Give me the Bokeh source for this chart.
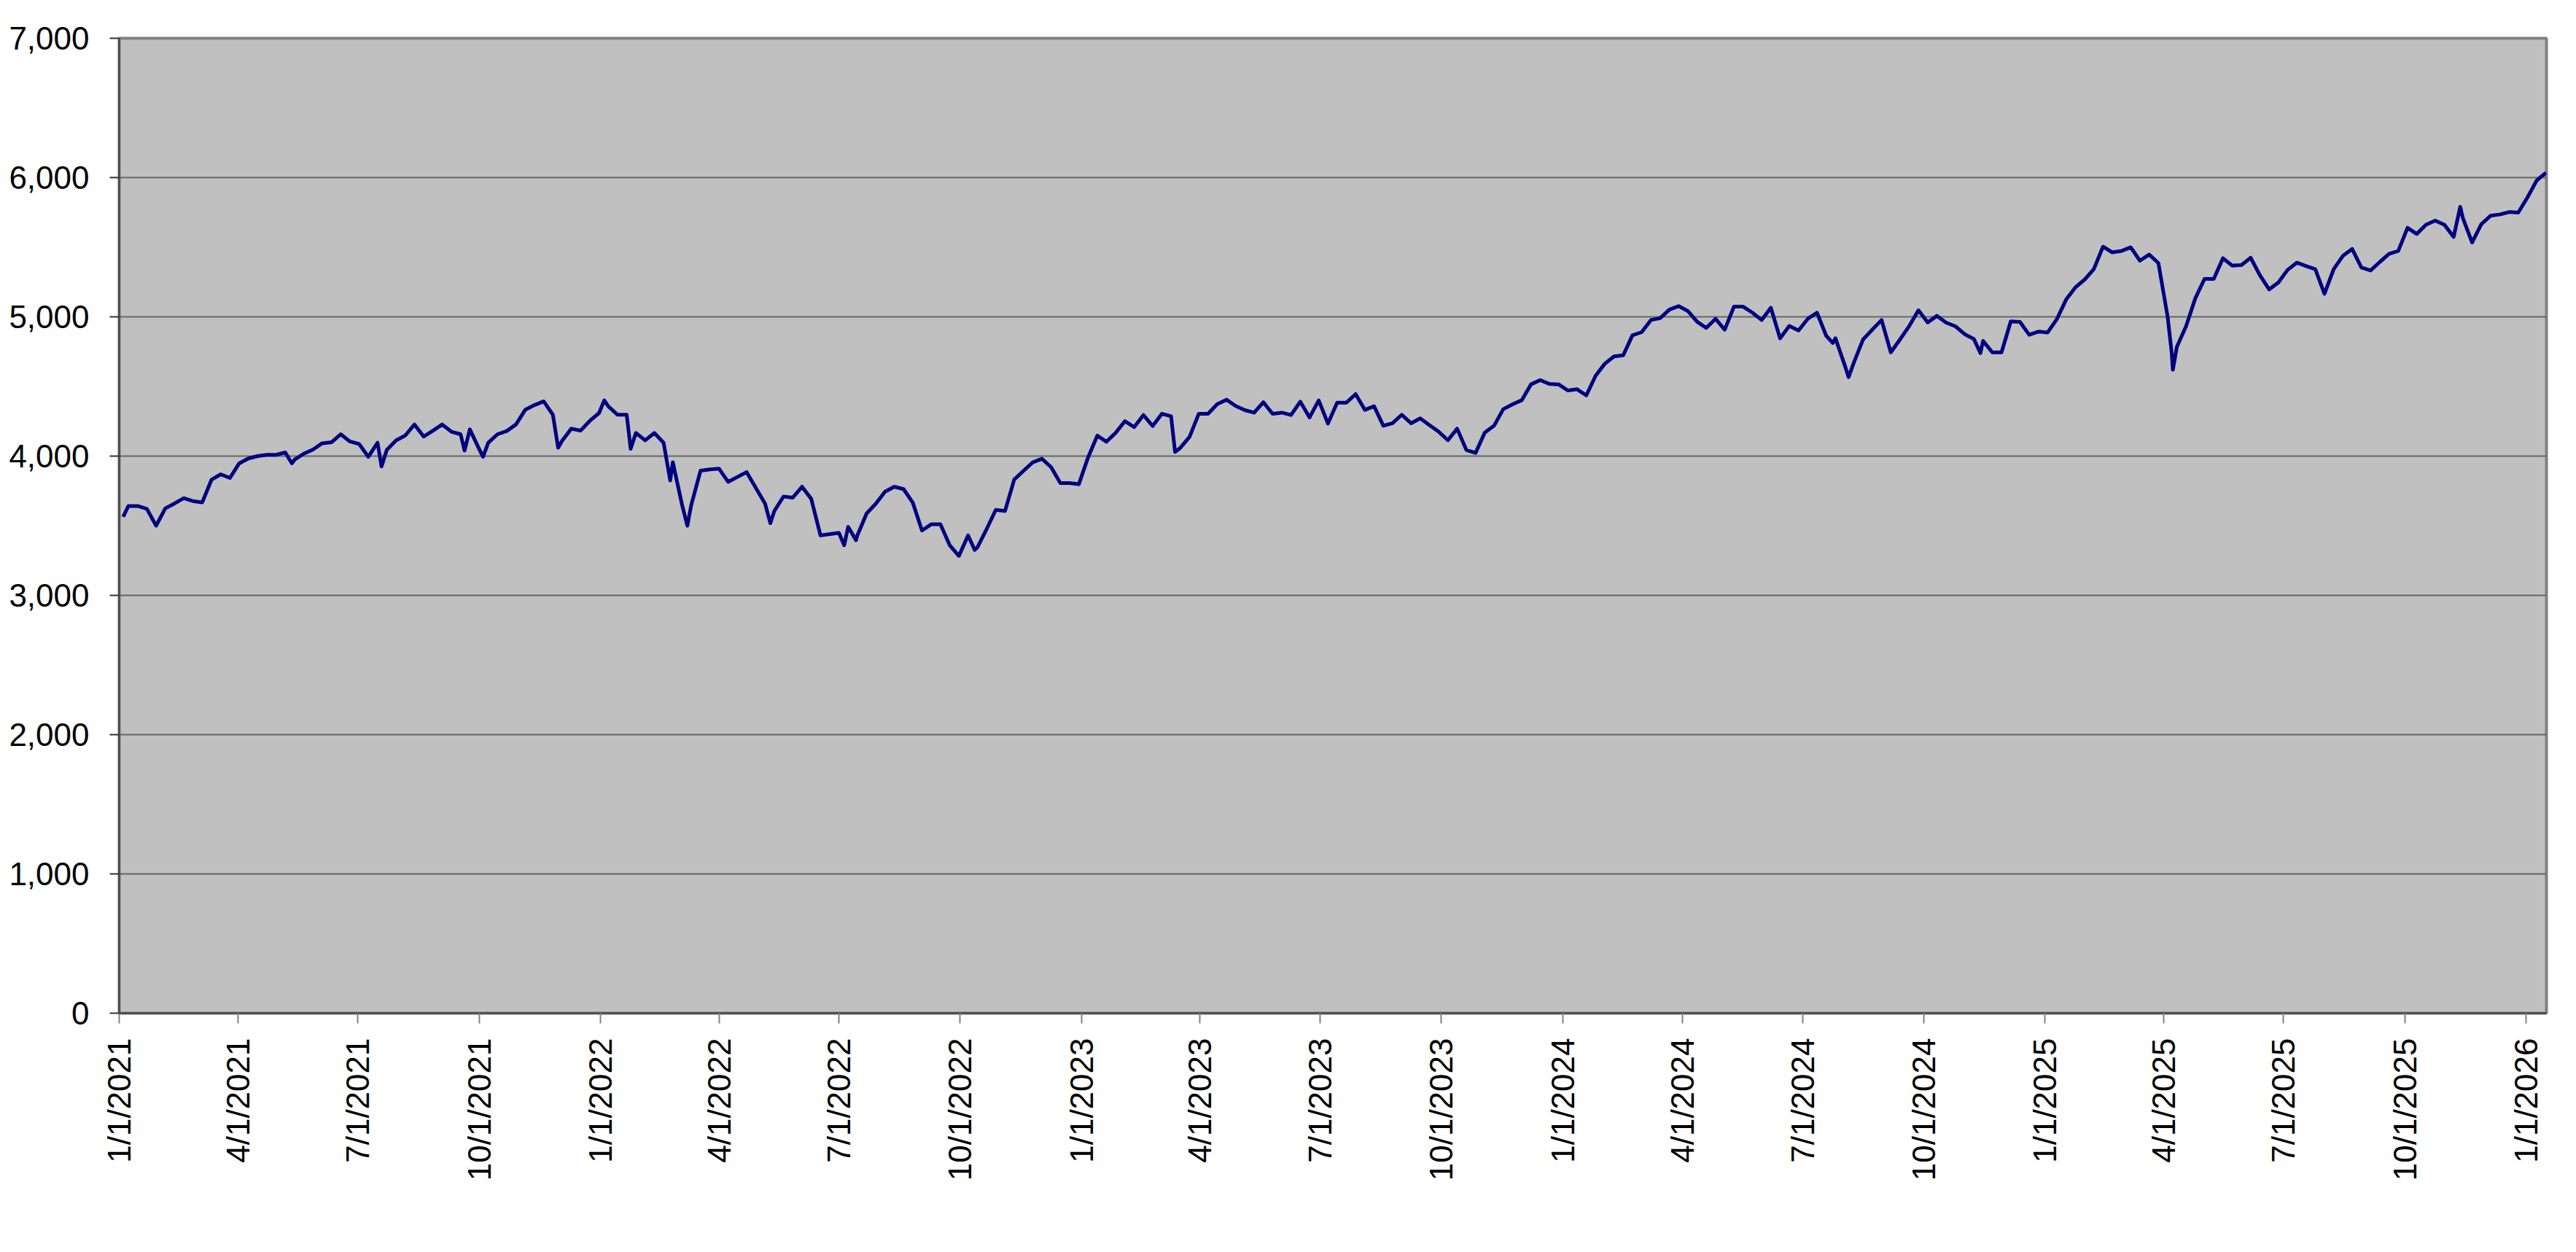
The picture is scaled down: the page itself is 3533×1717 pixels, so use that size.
import math
import pandas as pd
from bokeh.plotting import figure
from bokeh.models import Range1d, FixedTicker, NumeralTickFormatter, ColumnDataSource
from bokeh.embed import file_html
from bokeh.resources import INLINE

# ---- data ----
first_date = "2021-01-04"
first_value = 3564
week_start = "2021-01-08"   # Fridays
week_end = "2026-01-16"
weekly_values = [
    3642, 3642, 3621, 3500, 3625, 3660, 3698, 3677, 3668, 3830,
    3869, 3843, 3948, 3983, 4000, 4009, 4009, 4026, 3974, 4017,
    4047, 4092, 4099, 4157, 4105, 4087, 3995, 4096, 4044, 4113,
    4148, 4227, 4140, 4183, 4227, 4175, 4157, 4192, 4052, 4096,
    4157, 4180, 4227, 4332, 4366, 4393, 4297, 4110, 4197, 4183,
    4253, 4309, 4358, 4297, 4297, 4166, 4113, 4166, 4096, 3956,
    3650, 3650, 3895, 3904, 3910, 3815, 3850, 3885, 3771, 3658,
    3606, 3710, 3702, 3780, 3693, 3431, 3440, 3449, 3492, 3431,
    3588, 3658, 3745, 3780, 3763, 3667, 3466, 3510, 3510, 3361,
    3283, 3431, 3344, 3475, 3614, 3606, 3832, 3894, 3955, 3981,
    3920, 3806, 3806, 3798, 3990, 4147, 4103, 4168, 4251, 4208,
    4295, 4216, 4304, 4286, 4059, 4138, 4304, 4304, 4373, 4405,
    4360, 4330, 4312, 4387, 4304, 4312, 4295, 4391, 4277, 4400,
    4234, 4384, 4384, 4445, 4332, 4358, 4218, 4236, 4297, 4236,
    4271, 4222, 4175, 4114, 4197, 4044, 4023, 4169, 4218, 4337,
    4372, 4401, 4515, 4546, 4518, 4515, 4471, 4480, 4436, 4576,
    4663, 4716, 4724, 4867, 4890, 4977, 4990, 5052, 5077, 5042,
    4965, 4920, 4986, 4908, 5073, 5073, 5030, 4977, 5065, 4846,
    4934, 4902, 4986, 5030, 4864, 4846, 4654, 4672, 4838, 4908,
    4977, 4745, 4838, 4934, 5047, 4960, 5007, 4958, 4932, 4876,
    4841, 4827, 4745, 4745, 4967, 4963, 4871, 4894, 4888, 4984,
    5124, 5211, 5267, 5342, 5504, 5463, 5473, 5499, 5403, 5447,
    5386, 5002, 4784, 4932, 5133, 5272, 5272, 5421, 5368, 5372,
    5424, 5299, 5197, 5246, 5337, 5389, 5365, 5342, 5165, 5342,
    5438, 5487, 5354, 5333, 5394, 5452, 5473, 5639, 5595, 5661,
    5691, 5661, 5574, 5709, 5534, 5665, 5726, 5735, 5752, 5749,
    5857, 5979, 6035,
]
extra_dates = [
    "2021-05-12", "2021-07-19", "2021-09-20", "2021-10-04", "2021-11-30",
    "2022-01-04", "2022-01-24", "2022-02-23", "2022-03-08", "2022-05-10",
    "2022-07-05", "2022-07-14", "2022-10-12", "2023-03-13", "2024-07-24",
    "2024-08-05", "2024-11-13", "2025-04-07", "2025-04-08", "2025-11-12",
]
extra_values = [
    3948, 3925, 4040, 3995, 4060,
    4400, 4052, 3825, 3500, 3518,
    3360, 3396, 3326, 4030, 4812,
    4567, 4740, 4750, 4620, 5790,
]
tick_labels = [
    "1/1/2021", "4/1/2021", "7/1/2021", "10/1/2021",
    "1/1/2022", "4/1/2022", "7/1/2022", "10/1/2022",
    "1/1/2023", "4/1/2023", "7/1/2023", "10/1/2023",
    "1/1/2024", "4/1/2024", "7/1/2024", "10/1/2024",
    "1/1/2025", "4/1/2025", "7/1/2025", "10/1/2025",
    "1/1/2026",
]
y_ticks = [0, 1000, 2000, 3000, 4000, 5000, 6000, 7000]
x_start = "2021-01-01"
x_end = "2026-01-16 10:00"

# ---- build table ----
week_dates = list(pd.date_range(week_start, week_end, freq="W-FRI"))
dates = [pd.Timestamp(first_date)] + week_dates + list(pd.to_datetime(extra_dates))
values = [first_value] + weekly_values + extra_values
df = pd.DataFrame({"date": dates, "value": values}).sort_values("date")
source = ColumnDataSource(df)

FONT = "Liberation Sans"

p = figure(
    width=3517, height=1701,
    x_axis_type="datetime",
    x_range=Range1d(pd.Timestamp(x_start), pd.Timestamp(x_end)),
    y_range=Range1d(0, 7000),
    output_backend="svg", toolbar_location=None,
    min_border_left=163, min_border_right=25,
    min_border_top=52, min_border_bottom=312,
)
p.background_fill_color = "#C0C0C0"
p.border_fill_color = "white"
p.outline_line_color = "#808080"
p.outline_line_width = 4

p.line("date", "value", source=source, line_color="#000080",
       line_width=5, line_join="round")

# x axis
tick_ms = [int(pd.Timestamp(t).value // 10**6) for t in pd.to_datetime(tick_labels, format="%m/%d/%Y")]
p.xaxis.ticker = FixedTicker(ticks=tick_ms)
p.xaxis.major_label_overrides = {ms: lab for ms, lab in zip(tick_ms, tick_labels)}
p.xaxis.major_label_orientation = math.pi / 2
p.xaxis.major_label_text_font = FONT
p.xaxis.major_label_text_font_size = "44px"
p.xaxis.major_label_text_color = "black"
p.xaxis.major_label_standoff = 20
p.xaxis.major_tick_out = 14
p.xaxis.major_tick_in = 0
p.xaxis.major_tick_line_color = "#808080"
p.xaxis.major_tick_line_width = 2
p.xaxis.minor_tick_line_color = None
p.xaxis.axis_line_color = "#505050"
p.xaxis.axis_line_width = 3

# y axis
p.yaxis.ticker = FixedTicker(ticks=y_ticks)
p.yaxis.formatter = NumeralTickFormatter(format="0,0")
p.yaxis.major_label_text_font = FONT
p.yaxis.major_label_text_font_size = "44px"
p.yaxis.major_label_text_color = "black"
p.yaxis.major_label_standoff = 28
p.yaxis.major_tick_out = 13
p.yaxis.major_tick_in = 0
p.yaxis.major_tick_line_color = "#333333"
p.yaxis.major_tick_line_width = 2
p.yaxis.minor_tick_line_color = None
p.yaxis.axis_line_color = "#505050"
p.yaxis.axis_line_width = 3

# grid
p.xgrid.grid_line_color = None
p.ygrid.ticker = FixedTicker(ticks=y_ticks)
p.ygrid.grid_line_color = "#666666"
p.ygrid.grid_line_width = 2

open("out.html", "w").write(file_html(p, INLINE))
